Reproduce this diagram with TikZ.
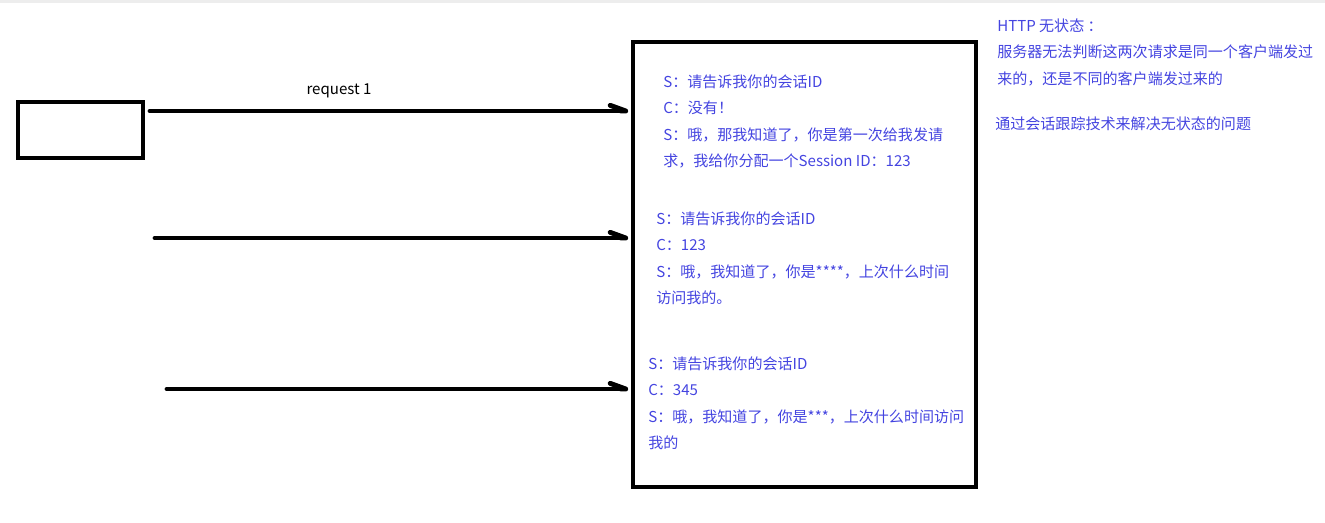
\documentclass[tikz,border=0pt]{standalone}
\usepackage{fontspec}
\setmainfont{Noto Sans CJK SC}
\usetikzlibrary{positioning,arrows.meta}
\definecolor{talkblue}{RGB}{68,68,224}
\tikzset {
    style box/.style={
        draw=black,
        line width=2.8pt,
        rectangle, % plain frame
        inner sep=0pt,
    },
    style req/.style={
        draw=black,
        line width=3.5pt,
        line cap=round,
        -{Straight Barb[harpoon, length=11pt, width=8pt, round]},
        shorten >=2pt,
    },
    style talk/.style={
        text=talkblue,
        font=\fontsize{10.7pt}{18.5pt}\selectfont,
        align=left,
        anchor=north west,
        inner sep=0pt,
    },
}

\begin{document}
\begin{tikzpicture}[x=0.025cm, y=-0.025cm]
\useasboundingbox (0,0) rectangle (1325,523);
\fill[black!7] (0,0) rectangle (1325,3);

\node[style box, minimum width=3.125cm, minimum height=1.4cm] at (80.5,130) (client) {};
\node[style box, minimum width=8.575cm, minimum height=11.125cm] at (804.5,264.5) (server) {};

\coordinate (req1) at (150,111);
\coordinate (req2) at (155,238);
\coordinate (req3) at (167,389);

\draw[style req] (req1) -- (server.west |- req1);
\draw[style req] (req2) -- (server.west |- req2);
\draw[style req] (req3) -- (server.west |- req3);
\node[font=\fontsize{10.7pt}{12pt}\selectfont] at (339,91) (lab1) {request 1};

\node[style talk] at (663,75) (talk1) {S：请告诉我你的会话ID\\C：没有！\\S：哦，那我知道了，你是第一次给我发请\\求，我给你分配一个Session ID：123};
\node[style talk] at (656,212) (talk2) {S：请告诉我你的会话ID\\C：123\\S：哦，我知道了，你是****，上次什么时间\\访问我的。};
\node[style talk] at (648,357) (talk3) {S：请告诉我你的会话ID\\C：345\\S：哦，我知道了，你是***，上次什么时间访问\\我的};

\node[style talk] at (997,19) (note) {HTTP 无状态 ：\\服务器无法判断这两次请求是同一个客户端发过\\来的，还是不同的客户端发过来的};
\node[style talk] at (995,117) (fix) {通过会话跟踪技术来解决无状态的问题};
\end{tikzpicture}
\end{document}
